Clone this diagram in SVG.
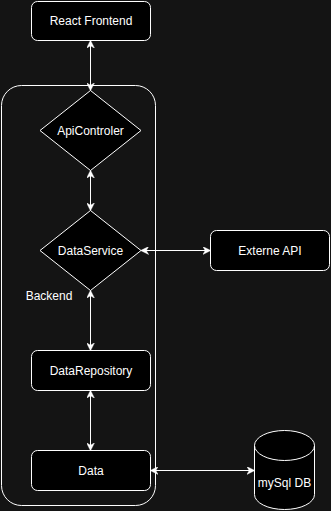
<svg xmlns="http://www.w3.org/2000/svg" width="331" height="511" viewBox="0 0 331 511">
  <style>
    .box { fill: #000000; stroke: #ffffff; stroke-width: 1; }
    .frame { fill: none; stroke: #ffffff; stroke-width: 1; }
    .lbl { font-family: "Liberation Sans", Arial, Helvetica, sans-serif; font-size: 12px; fill: #ffffff; text-anchor: middle; dominant-baseline: central; }
    .edge { fill: none; stroke: #ffffff; stroke-width: 1; }
  </style>
  <defs>
    <marker id="arrow" viewBox="0 0 10 10" refX="9" refY="5" markerWidth="8" markerHeight="8" markerUnits="userSpaceOnUse" orient="auto-start-reverse">
      <path d="M0,0 L10,5 L0,10 L3,5 Z" fill="#ffffff" stroke="#ffffff" stroke-width="0.5"/>
    </marker>
  </defs>
  <rect x="0" y="0" width="331" height="511" fill="#141414"/>

  <g id="backend">
    <rect class="frame" x="1.5" y="85.5" width="154" height="420" rx="20" ry="20"/>
    <text class="lbl" x="49" y="296">Backend</text>
  </g>

  <g id="react-frontend">
    <rect class="box" x="31.5" y="1.5" width="119" height="39" rx="6" ry="6"/>
    <text class="lbl" x="91" y="21">React Frontend</text>
  </g>

  <g id="api-controler">
    <path class="box" d="M90.5,90.5 L141,130.5 L90.5,170.5 L40,130.5 Z"/>
    <text class="lbl" x="90.5" y="130.5">ApiControler</text>
  </g>

  <g id="data-service">
    <path class="box" d="M90.5,210.5 L141,250.5 L90.5,290.5 L40,250.5 Z"/>
    <text class="lbl" x="90.5" y="250.5">DataService</text>
  </g>

  <g id="externe-api">
    <rect class="box" x="210.5" y="230.5" width="119" height="40" rx="6" ry="6"/>
    <text class="lbl" x="270" y="250.5">Externe API</text>
  </g>

  <g id="data-repository">
    <rect class="box" x="31.5" y="350.5" width="119" height="40" rx="6" ry="6"/>
    <text class="lbl" x="91" y="370.5">DataRepository</text>
  </g>

  <g id="data">
    <rect class="box" x="31.5" y="450.5" width="119" height="40" rx="6" ry="6"/>
    <text class="lbl" x="91" y="470.5">Data</text>
  </g>

  <g id="mysql-db">
    <path class="box" d="M254.5,445.5 A30,15 0 0 1 314.5,445.5 L314.5,494.5 A30,15 0 0 1 254.5,494.5 Z"/>
    <path class="frame" d="M254.5,445.5 A30,15 0 0 0 314.5,445.5"/>
    <text class="lbl" x="284.5" y="483">mySql DB</text>
  </g>

  <g id="connectors">
    <path class="edge" d="M90.5,41 L90.5,90" marker-start="url(#arrow)" marker-end="url(#arrow)"/>
    <path class="edge" d="M90.5,171 L90.5,210" marker-start="url(#arrow)" marker-end="url(#arrow)"/>
    <path class="edge" d="M141.5,250.5 L210,250.5" marker-start="url(#arrow)" marker-end="url(#arrow)"/>
    <path class="edge" d="M90.5,291 L90.5,350" marker-start="url(#arrow)" marker-end="url(#arrow)"/>
    <path class="edge" d="M90.5,391 L90.5,450" marker-start="url(#arrow)" marker-end="url(#arrow)"/>
    <path class="edge" d="M151,470.5 L254,470.5" marker-start="url(#arrow)" marker-end="url(#arrow)"/>
  </g>
</svg>
